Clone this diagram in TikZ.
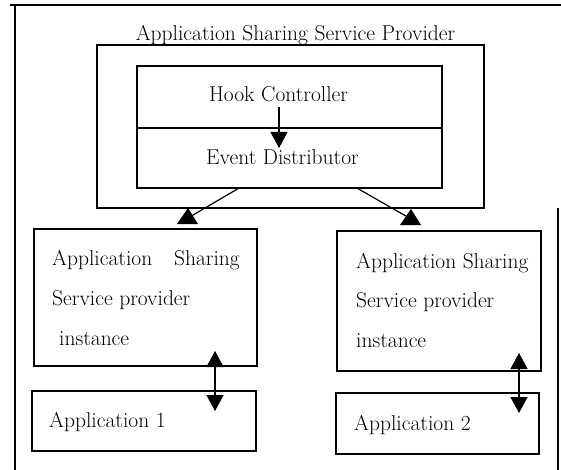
\documentclass[tikz,border=0pt]{standalone}
\usepackage{fontspec}
\setmainfont{Latin Modern Roman}
\usetikzlibrary{arrows.meta,calc}
\begin{document}
\begin{tikzpicture}[x=1pt,y=-1pt,
  box/.style={draw=black,line width=1.3pt,inner sep=0pt,fill=none},
  txt/.style={inner sep=0pt,font=\fontsize{21.5}{25}\selectfont},
  conn/.style={line width=1.2pt},
  tri/.style={fill=black},
  varr/.style={line width=1.2pt,-{Triangle[width=17pt,length=16pt]}},
  barr/.style={line width=1.2pt,{Triangle[width=17pt,length=16pt]}-{Triangle[width=17pt,length=16pt]}},
  frame/.style={line width=1.4pt}]
\useasboundingbox (0,0) rectangle (561,470);
% outer frame (scan fragment)
\coordinate (f1) at (10,5);
\coordinate (f2) at (561,5);
\coordinate (f3) at (15,5);
\coordinate (f4) at (15,470);
\coordinate (f5) at (558,208);
\coordinate (f6) at (558,470);
\draw[frame] (f1) -- (f2);
\draw[frame] (f3) -- (f4);
\draw[frame] (f5) -- (f6);
% title
\node[txt,anchor=base] (title) at (295.5,41) {Application Sharing Service Provider};
% provider box
\node[box,minimum width=387pt,minimum height=163pt] (asp) at (290.5,126.5) {};
\node[box,minimum width=305pt,minimum height=62pt] (hook) at (289.5,97) {};
\node[box,minimum width=305pt,minimum height=60pt] (ev) at (289.5,158) {};
\node[txt,anchor=base] (hookt) at (278.5,102) {Hook Controller};
\node[txt,anchor=base] (evt) at (282.5,165) {Event Distributor};
% instance boxes
\node[box,minimum width=223pt,minimum height=137pt] (inst1) at (145.5,297.5) {};
\node[box,minimum width=204pt,minimum height=140pt] (inst2) at (439,301) {};
\node[txt,anchor=base west] (i1a) at (52,265) {Application};
\node[txt,anchor=base east] (i1b) at (240,265) {Sharing};
\node[txt,anchor=base west] (i1c) at (52,305) {Service provider};
\node[txt,anchor=base west] (i1d) at (59,345) {instance};
\node[txt,anchor=base west] (i2a) at (356,268) {Application Sharing};
\node[txt,anchor=base west] (i2c) at (356,307) {Service provider};
\node[txt,anchor=base west] (i2d) at (356,347) {instance};
% application boxes
\node[box,minimum width=224pt,minimum height=60pt] (app1) at (144,421) {};
\node[box,minimum width=203pt,minimum height=61pt] (app2) at (437.5,423.5) {};
\node[txt,anchor=base west] (a1t) at (49,427) {Application 1};
\node[txt,anchor=base west] (a2t) at (354,430) {Application 2};
% hook -> event
\coordinate (hs) at (279,107);
\coordinate (he) at (279,148);
\draw[varr] (hs) -- (he);
% event -> instances (flat-based triangle heads)
\coordinate (tl) at (188,218);
\coordinate (tr) at (411,219);
\draw[conn] ([xshift=-51.5pt]ev.south) -- (tl);
\draw[conn] ([xshift=68.5pt]ev.south) -- (tr);
\fill[tri] (188,208) -- (198,224) -- (177,224) -- cycle;
\fill[tri] (411,209) -- (421,225) -- (400,225) -- cycle;
% instance <-> application
\coordinate (b1s) at (215,351);
\coordinate (b1e) at (215,411);
\coordinate (b2s) at (519,353);
\coordinate (b2e) at (519,413);
\draw[barr] (b1s) -- (b1e);
\draw[barr] (b2s) -- (b2e);
\end{tikzpicture}
\end{document}
